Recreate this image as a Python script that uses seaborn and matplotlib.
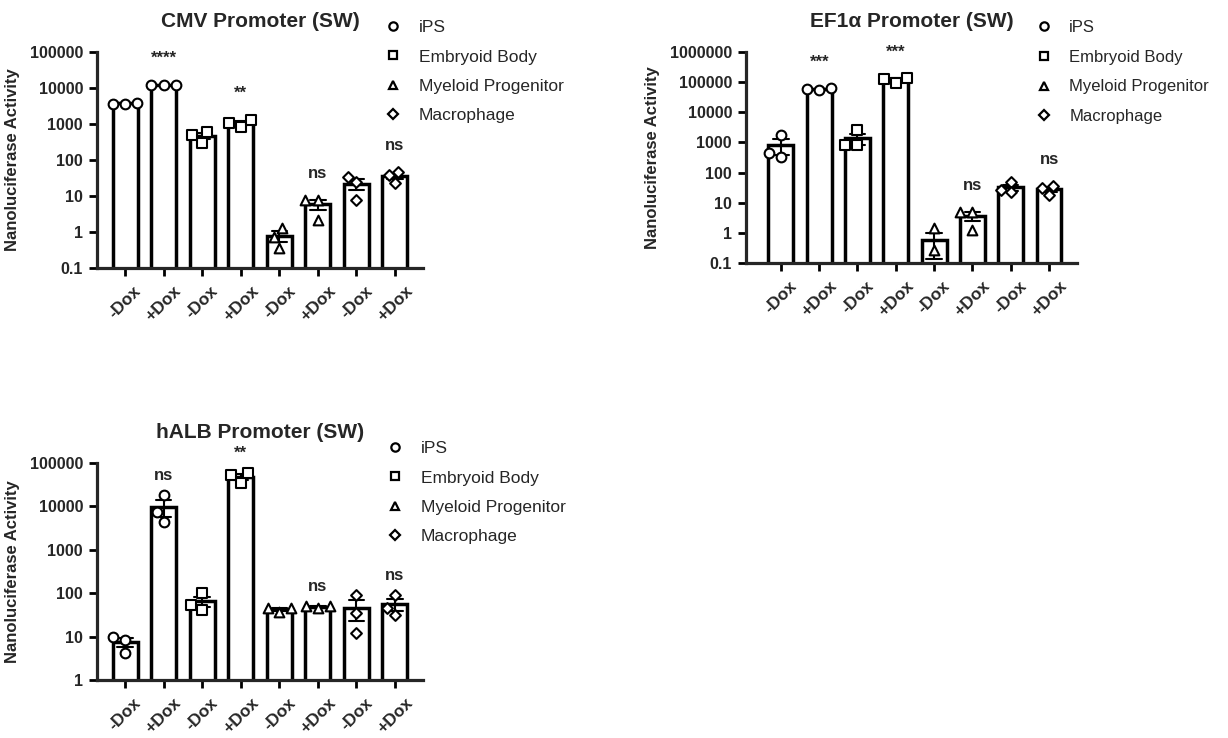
import numpy as np
import pandas as pd
import matplotlib
matplotlib.use("Agg")
import matplotlib.pyplot as plt
import seaborn as sns
from matplotlib.lines import Line2D

sns.set_theme(style="ticks")
plt.rcParams["font.family"] = ["Liberation Sans", "DejaVu Sans"]

# ---------------- data ----------------
cell_types = ["iPS", "Embryoid Body", "Myeloid Progenitor", "Macrophage"]
conditions = ["-Dox", "+Dox"]
cell_markers = ["o", "s", "^", "D"]

# replicate values per group, groups ordered: iPS -/+, EB -/+, MP -/+, Mac -/+
cmv_values = [
    [3700, 3900, 3700], [12000, 12000, 12500],
    [600, 300, 480], [830, 1300, 1070],
    [1.3, 0.36, 0.72], [7.7, 2.2, 7.7],
    [34, 7.8, 24], [47, 23, 38],
]
ef1a_values = [
    [320, 1740, 440], [55000, 60000, 62000],
    [800, 2500, 800], [95000, 135000, 130000],
    [0.26, 1.4, 0.02], [4.8, 1.2, 4.8],
    [48, 22, 26], [36, 30, 18],
]
halb_values = [
    [10, 4.2, 8.5], [18000, 7400, 4400],
    [100, 41, 54], [35000, 59000, 52000],
    [36, 45, 46], [46, 52, 50],
    [90, 35, 12], [92, 32, 45],
]

cmv_sig = ["", "****", "", "**", "", "ns", "", "ns"]
ef1a_sig = ["", "***", "", "***", "", "ns", "", "ns"]
halb_sig = ["", "ns", "", "**", "", "ns", "", "ns"]

cmv_yticks = [0.1, 1, 10, 100, 1000, 10000, 100000]
cmv_yticklabels = ["0.1", "1", "10", "100", "1000", "10000", "100000"]
ef1a_yticks = [0.1, 1, 10, 100, 1000, 10000, 100000, 1000000]
ef1a_yticklabels = ["0.1", "1", "10", "100", "1000", "10000", "100000", "1000000"]
halb_yticks = [1, 10, 100, 1000, 10000, 100000]
halb_yticklabels = ["1", "10", "100", "1000", "10000", "100000"]

titles = ["CMV Promoter (SW)", "EF1\u03b1 Promoter (SW)", "hALB Promoter (SW)"]
ylabel = "Nanoluciferase Activity"

# ---------------- figure ----------------
W, H = 1228, 738
fig = plt.figure(figsize=(W / 100, H / 100), dpi=100)


def rect(left, top, right, bottom):
    return [left / W, 1 - bottom / H, (right - left) / W, (bottom - top) / H]


def make_df(values):
    rows = []
    for ci, cell in enumerate(cell_types):
        for di, cond in enumerate(conditions):
            g = ci * 2 + di
            for v in values[g]:
                rows.append({"key": f"{cell} {cond}", "cell": cell,
                             "cond": cond, "value": v})
    return pd.DataFrame(rows)


keys = [f"{c} {d}" for c in cell_types for d in conditions]
tick_labels = [d for c in cell_types for d in conditions]

panels = [
    dict(values=cmv_values, sig=cmv_sig, yt=cmv_yticks, ytl=cmv_yticklabels,
         rect=rect(97, 52, 423, 268), xlim=(-0.73, 7.73), sig_off=19,
         leg=(384, 20), leg_fs=12.5, leg_sp=0.82, title=titles[0]),
    dict(values=ef1a_values, sig=ef1a_sig, yt=ef1a_yticks, ytl=ef1a_yticklabels,
         rect=rect(746, 52, 1077, 263), xlim=(-0.91, 7.73), sig_off=19,
         leg=(1036, 20), leg_fs=12, leg_sp=0.88, title=titles[1]),
    dict(values=halb_values, sig=halb_sig, yt=halb_yticks, ytl=halb_yticklabels,
         rect=rect(97, 463, 423, 680), xlim=(-0.73, 7.73), sig_off=14,
         leg=(386, 441), leg_fs=12.5, leg_sp=0.82, title=titles[2]),
]

for p in panels:
    ax = fig.add_axes(p["rect"])
    df = make_df(p["values"])
    sns.barplot(data=df, x="key", y="value", order=keys, errorbar="se",
                capsize=0.4, width=0.65, color="white", saturation=1,
                edgecolor="black", linewidth=2.5,
                err_kws={"color": "black", "linewidth": 1.5}, ax=ax)
    ax.set_yscale("log")
    for cell, m in zip(cell_types, cell_markers):
        sub = df[df["cell"] == cell]
        sns.swarmplot(data=sub, x="key", y="value", order=keys, marker=m,
                      size=(5.5 if m == "D" else 7), color="white",
                      edgecolor="black", linewidth=1.5, ax=ax, zorder=5)
    ymin, ymax = p["yt"][0], p["yt"][-1]
    ax.set_ylim(ymin, ymax)
    ax.set_xlim(*p["xlim"])
    ax.set_yticks(p["yt"])
    ax.set_yticklabels(p["ytl"], fontsize=11.5, fontweight="bold")
    ax.yaxis.set_minor_locator(matplotlib.ticker.NullLocator())
    ax.set_xticks(range(len(keys)))
    ax.set_xticklabels(tick_labels, rotation=45, ha="center",
                       fontsize=12.5, fontweight="bold")
    ax.set_xlabel("")
    ax.set_ylabel(ylabel, fontsize=12, fontweight="bold", labelpad=7)
    ax.set_title(p["title"], fontsize=15, fontweight="bold", pad=18)
    sns.despine(ax=ax)
    for s in ["left", "bottom"]:
        ax.spines[s].set_linewidth(2.3)
    ax.tick_params(axis="both", width=2, length=6, color="black", pad=4)
    ax.tick_params(axis="x", pad=5)
    ax.set_facecolor("white")

    # significance labels above +Dox groups
    for gi, lab in enumerate(p["sig"]):
        if lab:
            top = max(p["values"][gi])
            ax.annotate(lab, xy=(gi, top), xytext=(0, p["sig_off"]),
                        textcoords="offset points", ha="center", va="center",
                        fontsize=12, fontweight="bold", annotation_clip=False)

    handles = [Line2D([], [], marker=m, linestyle="None",
                      markersize=(5 if m == "D" else 6),
                      markerfacecolor="white", markeredgecolor="black",
                      markeredgewidth=1.6)
               for m in cell_markers]
    lx, ly = p["leg"]
    fig.legend(handles, cell_types, loc="upper left",
               bbox_to_anchor=(lx / W, 1 - ly / H), frameon=False,
               fontsize=p["leg_fs"], handlelength=1.0, handletextpad=1.0,
               borderpad=0, borderaxespad=0, labelspacing=p["leg_sp"])

fig.savefig("out.png", dpi=100, facecolor="white")
